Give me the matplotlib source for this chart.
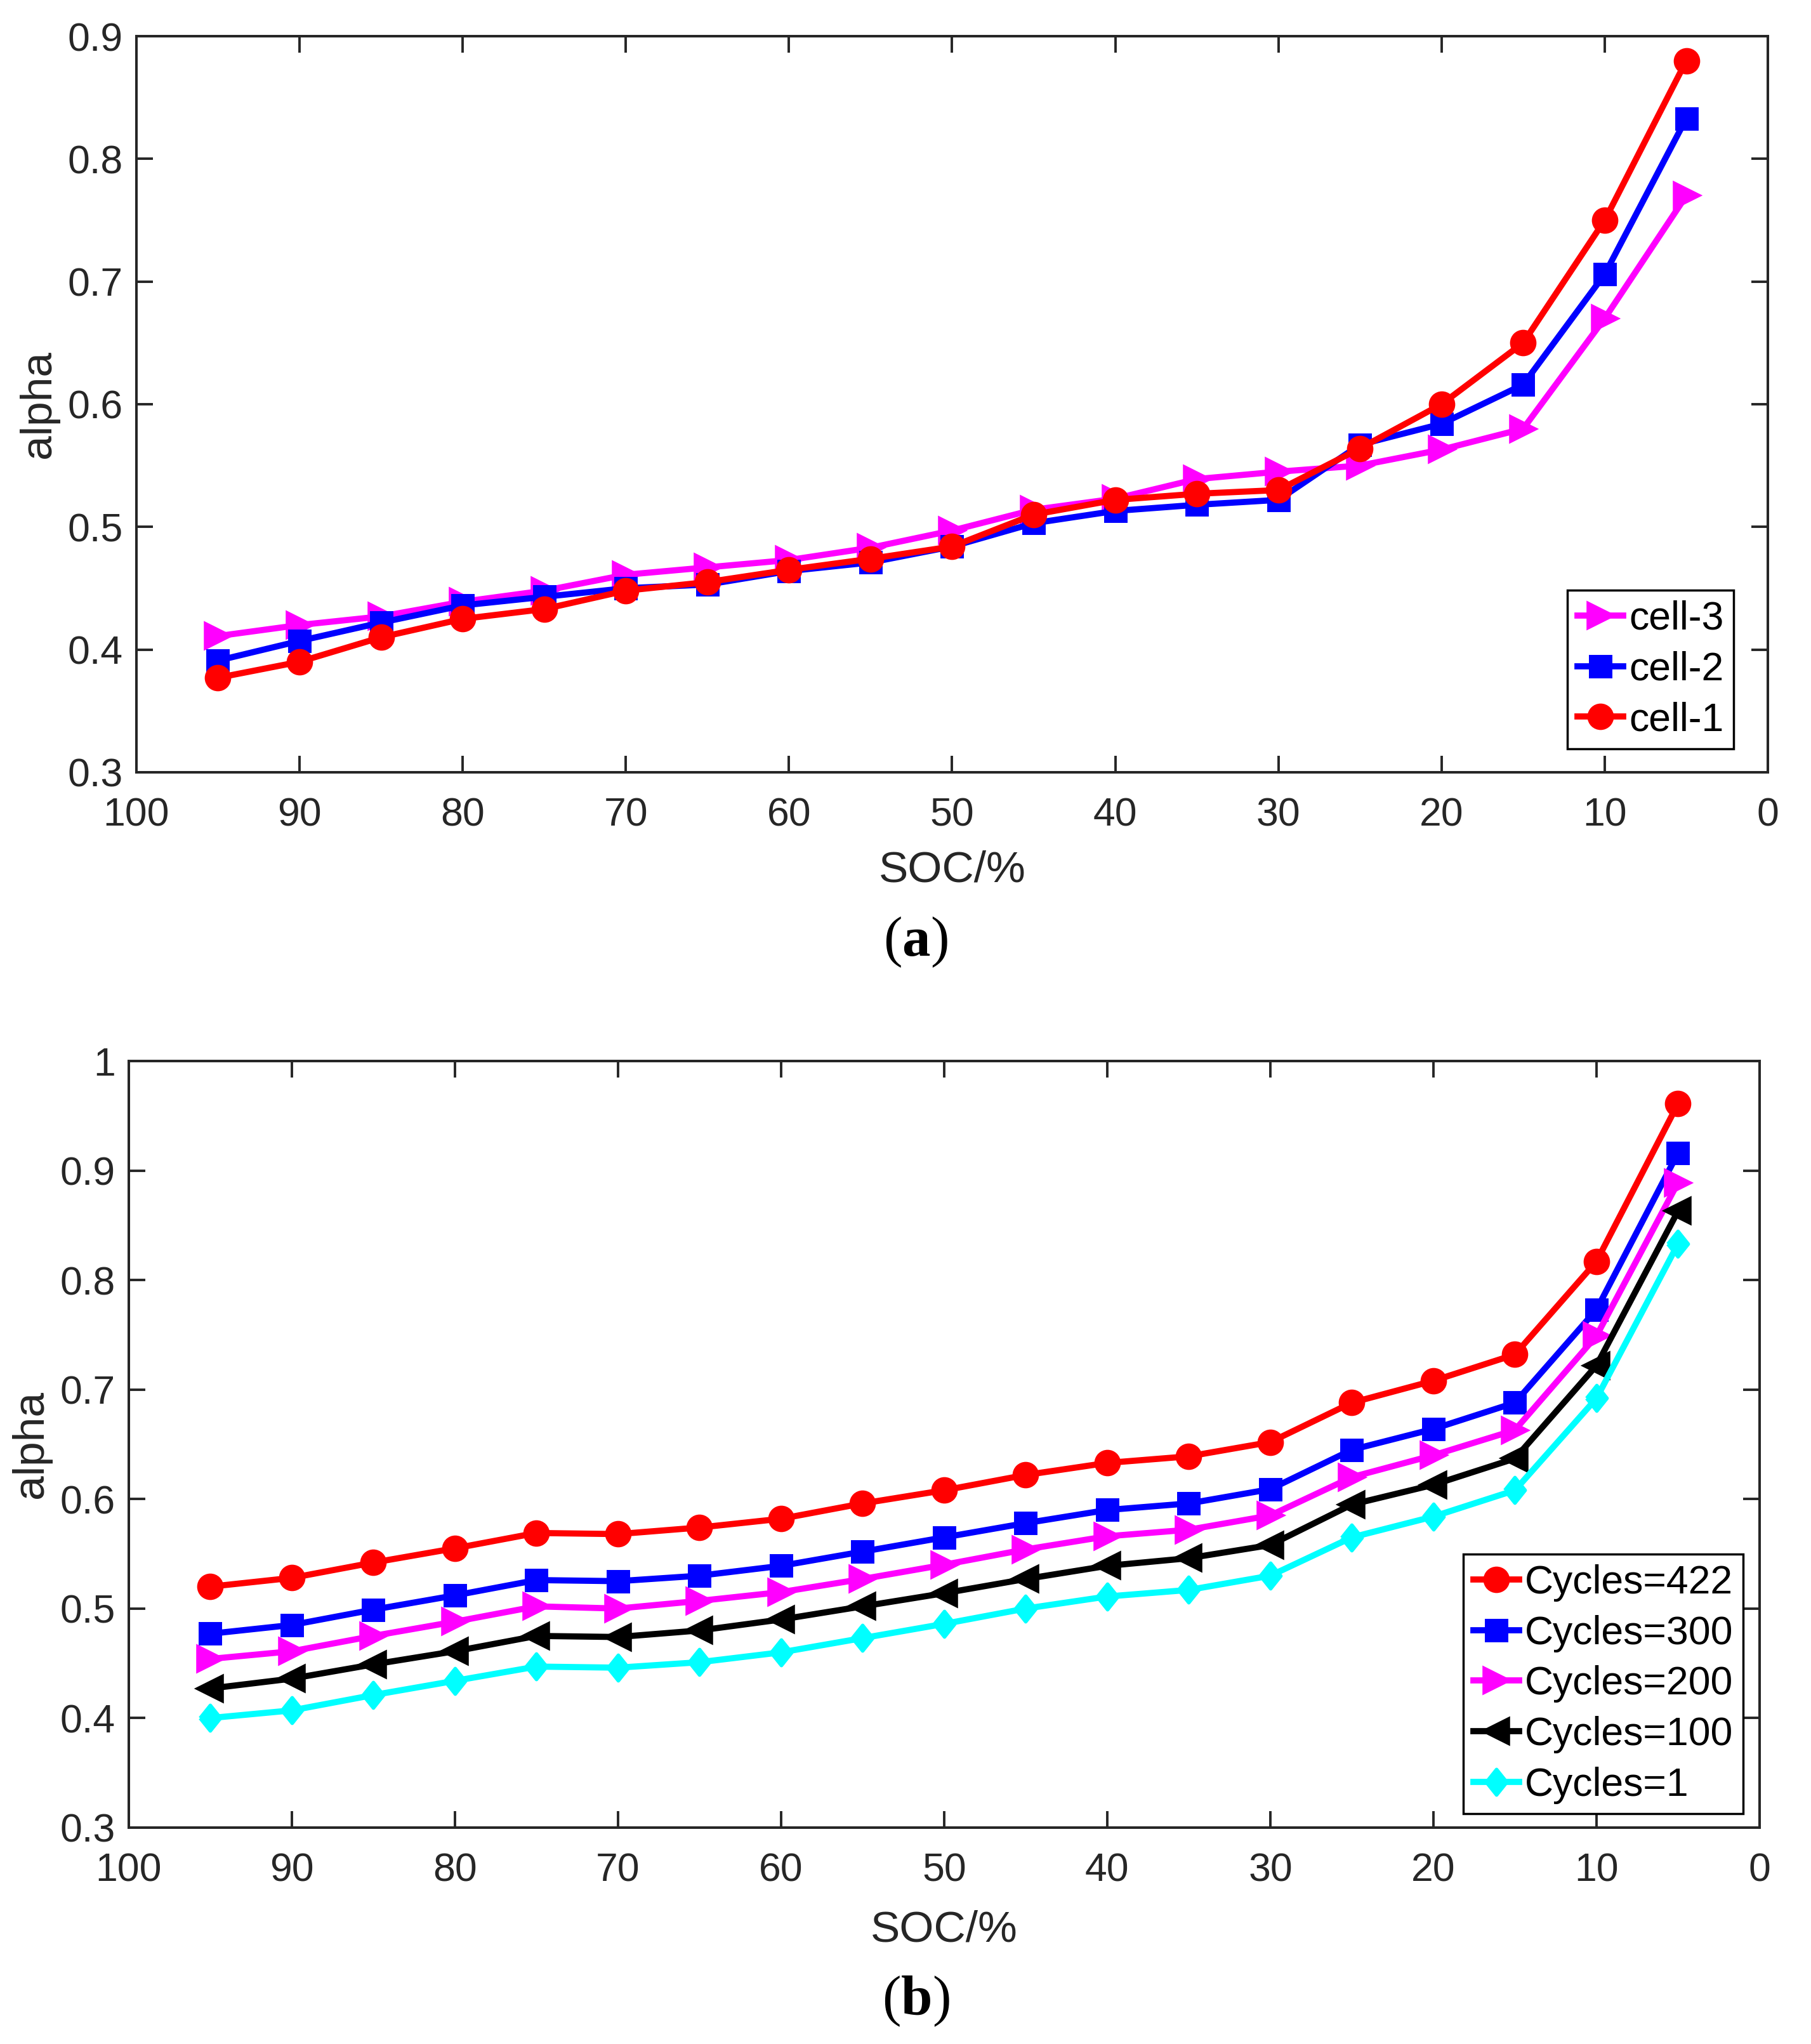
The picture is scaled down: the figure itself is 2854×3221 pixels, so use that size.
import matplotlib
matplotlib.use("Agg")
import matplotlib.pyplot as plt
from matplotlib.ticker import FuncFormatter

plt.rcParams["font.family"] = ["Liberation Sans", "DejaVu Sans"]
plt.rcParams["mathtext.fontset"] = "custom"
plt.rcParams["mathtext.rm"] = "Liberation Serif"
plt.rcParams["mathtext.bf"] = "Liberation Serif:bold"

# SOC points (%)
soc = [95, 90, 85, 80, 75, 70, 65, 60, 55, 50, 45, 40, 35, 30, 25, 20, 15, 10, 5]

# (a) three cells
cell_3 = [0.411, 0.420, 0.427, 0.439, 0.448, 0.461, 0.467, 0.473, 0.483, 0.497,
          0.514, 0.523, 0.539, 0.545, 0.550, 0.563, 0.580, 0.670, 0.770]
cell_2 = [0.391, 0.407, 0.422, 0.436, 0.443, 0.450, 0.453, 0.464, 0.471, 0.484,
          0.503, 0.513, 0.518, 0.522, 0.567, 0.584, 0.616, 0.706, 0.833]
cell_1 = [0.377, 0.390, 0.410, 0.425, 0.433, 0.448, 0.455, 0.465, 0.474, 0.484,
          0.510, 0.522, 0.527, 0.530, 0.564, 0.600, 0.650, 0.750, 0.880]

# (b) one cell at different cycle counts
cyc_422 = [0.520, 0.528, 0.542, 0.555, 0.569, 0.568, 0.574, 0.582, 0.596, 0.608,
           0.622, 0.633, 0.639, 0.652, 0.688, 0.708, 0.732, 0.817, 0.961]
cyc_300 = [0.477, 0.485, 0.499, 0.512, 0.526, 0.525, 0.530, 0.539, 0.552, 0.565,
           0.578, 0.590, 0.596, 0.609, 0.645, 0.664, 0.688, 0.773, 0.916]
cyc_200 = [0.454, 0.461, 0.475, 0.488, 0.502, 0.500, 0.507, 0.515, 0.527, 0.540,
           0.554, 0.566, 0.572, 0.585, 0.620, 0.640, 0.663, 0.749, 0.889]
cyc_100 = [0.427, 0.436, 0.449, 0.461, 0.475, 0.474, 0.480, 0.490, 0.502, 0.514,
           0.527, 0.539, 0.546, 0.558, 0.595, 0.613, 0.637, 0.722, 0.863]
cyc_1 = [0.400, 0.407, 0.421, 0.434, 0.447, 0.446, 0.451, 0.460, 0.473, 0.486,
         0.500, 0.511, 0.517, 0.530, 0.565, 0.584, 0.608, 0.692, 0.833]

x_ticks = list(range(0, 101, 10))

DARK = "#262626"
LW = 7
# matlab style diamond (taller than wide)
DIAMOND = [(-0.8, 0), (0, 1), (0.8, 0), (0, -1), (-0.8, 0)]

mk = {
    "o": dict(marker="o", ms=25, mew=5),
    "s": dict(marker="s", ms=22, mew=5),
    ">": dict(marker=">", ms=28, mew=4),
    "<": dict(marker="<", ms=28, mew=4),
    "d": dict(marker=DIAMOND, ms=29, mew=4),
}


def style_axes(ax, ylim, yticks, xpad):
    ax.set_xlim(100, 0)
    ax.set_ylim(*ylim)
    ax.set_xticks(x_ticks)
    ax.set_yticks(yticks)
    ax.yaxis.set_major_formatter(FuncFormatter(lambda v, p: f"{v:g}"))
    ax.tick_params(direction="in", length=19, width=2.8, colors=DARK,
                   labelsize=45, top=True, right=True)
    ax.tick_params(axis="x", pad=28)
    ax.tick_params(axis="y", pad=15)
    for s in ax.spines.values():
        s.set_linewidth(2.9)
        s.set_color(DARK)
    ax.set_xlabel("SOC/%", fontsize=50, color=DARK, labelpad=xpad)
    ax.set_ylabel("alpha", fontsize=50, color=DARK, labelpad=10)


def add_legend(ax, anchor):
    leg = ax.legend(loc="lower right", bbox_to_anchor=anchor, borderaxespad=0,
                    fontsize=45, handlelength=1.15, handletextpad=0.15,
                    labelspacing=0.33, borderpad=0.25, fancybox=False,
                    framealpha=1, edgecolor="black")
    leg.get_frame().set_linewidth(2.5)
    for t in leg.get_texts():
        t.set_color("black")


fig = plt.figure(figsize=(28.54, 32.21), dpi=100)

ax1 = fig.add_axes([0.0753, 0.6222, 0.9762 - 0.0753, 0.9823 - 0.6222])
ax1.plot(soc, cell_3, color="magenta", lw=LW, label="cell-3", **mk[">"])
ax1.plot(soc, cell_2, color="blue", lw=LW, label="cell-2", **mk["s"])
ax1.plot(soc, cell_1, color="red", lw=LW, label="cell-1", **mk["o"])
style_axes(ax1, (0.3, 0.9), [0.3, 0.4, 0.5, 0.6, 0.7, 0.8, 0.9], 18)
add_legend(ax1, (0.979, 0.032))

ax2 = fig.add_axes([0.0711, 0.1059, 0.9716 - 0.0711, 0.4809 - 0.1059])
ax2.plot(soc, cyc_422, color="red", lw=LW, label="Cycles=422", **mk["o"])
ax2.plot(soc, cyc_300, color="blue", lw=LW, label="Cycles=300", **mk["s"])
ax2.plot(soc, cyc_200, color="magenta", lw=LW, label="Cycles=200", **mk[">"])
ax2.plot(soc, cyc_100, color="black", lw=LW, label="Cycles=100", **mk["<"])
ax2.plot(soc, cyc_1, color="cyan", lw=LW, label="Cycles=1", **mk["d"])
style_axes(ax2, (0.3, 1.0), [0.3, 0.4, 0.5, 0.6, 0.7, 0.8, 0.9, 1.0], 23)
add_legend(ax2, (0.99, 0.018))

fig.text(0.5056, 0.539, r"$(\mathbf{a})$", fontsize=64, ha="center", va="center")
fig.text(0.5056, 0.0208, r"$(\mathbf{b})$", fontsize=64, ha="center", va="center")

fig.savefig("out.png", dpi=100)
